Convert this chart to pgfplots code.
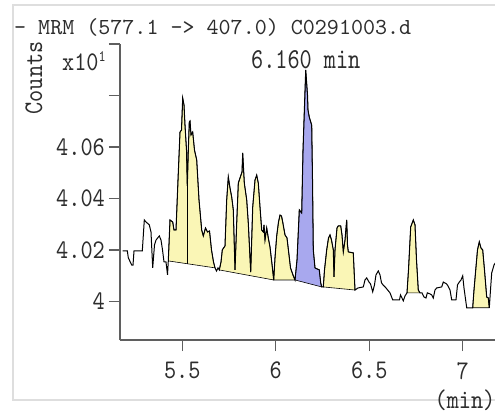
\documentclass[border=0pt]{standalone}
\usepackage{fontspec}
\usepackage{pgfplots}
\pgfplotsset{compat=1.18}
\usepackage{pgfplotstable}

\newfontfamily\titlemono{lmmono10-regular.otf}
\newfontfamily\tallmono{lmmono10-regular.otf}[FakeStretch=0.86]
\newfontfamily\peakmono{lmmono10-regular.otf}[FakeStretch=0.80]

\definecolor{peakyellow}{RGB}{250,246,182}
\definecolor{peakblue}{RGB}{168,168,238}
\definecolor{axisgray}{RGB}{95,95,95}
\definecolor{labelgray}{RGB}{45,45,45}
\definecolor{framegray}{RGB}{222,222,222}

% MRM trace: retention time (min) vs counts (x10^1)
\pgfplotstableread{
t c
5.1813 4.0197
5.2059 4.0197
5.2112 4.0170
5.2294 4.0142
5.2364 4.0142
5.2417 4.0197
5.2861 4.0197
5.2968 4.0317
5.3059 4.0309
5.3235 4.0298
5.3326 4.0270
5.3417 4.0131
5.3513 4.0220
5.3594 4.0239
5.3770 4.0255
5.3861 4.0239
5.3941 4.0201
5.4021 4.0154
5.4128 4.0154
5.4209 4.0104
5.4251 4.0158
5.4342 4.0317
5.4487 4.0309
5.4556 4.0278
5.4663 4.0278
5.4770 4.0472
5.4877 4.0658
5.4957 4.0666
5.5021 4.0790
5.5091 4.0763
5.5144 4.0685
5.5225 4.0588
5.5267 4.0449
5.5321 4.0588
5.5374 4.0697
5.5412 4.0701
5.5465 4.0647
5.5556 4.0658
5.5652 4.0588
5.5770 4.0550
5.5893 4.0395
5.6037 4.0278
5.6123 4.0255
5.6241 4.0286
5.6348 4.0270
5.6455 4.0274
5.6561 4.0201
5.6668 4.0154
5.6749 4.0131
5.6829 4.0119
5.6909 4.0131
5.6979 4.0123
5.7070 4.0154
5.7139 4.0201
5.7283 4.0216
5.7374 4.0395
5.7460 4.0484
5.7551 4.0441
5.7642 4.0406
5.7727 4.0356
5.7818 4.0123
5.7909 4.0305
5.7995 4.0460
5.8086 4.0480
5.8193 4.0503
5.8230 4.0577
5.8316 4.0460
5.8444 4.0395
5.8529 4.0305
5.8658 4.0115
5.8765 4.0367
5.8888 4.0472
5.8979 4.0491
5.9064 4.0460
5.9155 4.0367
5.9246 4.0278
5.9332 4.0270
5.9369 4.0298
5.9422 4.0239
5.9513 4.0286
5.9599 4.0247
5.9690 4.0212
5.9813 4.0135
5.9888 4.0084
5.9957 4.0170
6.0048 4.0255
6.0144 4.0309
6.0225 4.0336
6.0305 4.0332
6.0369 4.0309
6.0492 4.0259
6.0599 4.0247
6.0706 4.0181
6.0786 4.0131
6.0936 4.0100
6.1027 4.0084
6.1134 4.0162
6.1257 4.0356
6.1385 4.0344
6.1455 4.0588
6.1600 4.0899
6.1695 4.0802
6.1722 4.0744
6.1791 4.0716
6.1920 4.0685
6.1963 4.0472
6.2005 4.0201
6.2096 4.0131
6.2326 4.0123
6.2401 4.0073
6.2455 4.0057
6.2540 4.0057
6.2604 4.0123
6.2722 4.0201
6.2818 4.0247
6.2898 4.0259
6.2979 4.0239
6.3075 4.0201
6.3112 4.0096
6.3166 4.0201
6.3273 4.0286
6.3342 4.0294
6.3471 4.0294
6.3540 4.0259
6.3610 4.0193
6.3701 4.0239
6.3791 4.0317
6.3834 4.0220
6.3877 4.0193
6.4144 4.0189
6.4235 4.0045
6.4396 4.0053
6.4679 4.0057
6.4770 4.0084
6.4861 4.0092
6.4984 4.0076
6.5064 4.0069
6.5182 4.0038
6.5278 4.0065
6.5358 4.0104
6.5481 4.0119
6.5572 4.0104
6.5652 4.0073
6.5733 4.0065
6.5893 4.0053
6.6107 4.0034
6.6251 4.0007
6.6428 4.0007
6.6615 4.0007
6.6668 4.0026
6.6818 4.0003
6.6909 4.0022
6.7016 4.0034
6.7096 4.0123
6.7214 4.0290
6.7353 4.0317
6.7444 4.0298
6.7524 4.0162
6.7620 4.0045
6.7711 4.0034
6.7818 4.0034
6.7925 4.0018
6.8032 4.0014
6.8102 4.0034
6.8246 4.0030
6.8337 4.0026
6.8422 4.0014
6.8513 4.0045
6.8604 4.0053
6.8872 4.0057
6.8957 4.0076
6.9128 4.0069
6.9209 4.0061
6.9316 4.0045
6.9406 4.0007
6.9636 4.0007
6.9717 4.0065
6.9813 4.0076
6.9904 4.0084
6.9995 4.0100
7.0064 4.0053
7.0209 3.9976
7.0529 3.9976
7.0599 4.0045
7.0706 4.0135
7.0786 4.0201
7.0882 4.0232
7.0973 4.0208
7.1064 4.0201
7.1160 4.0123
7.1278 4.0018
7.1364 4.0014
7.1417 3.9976
7.1481 4.0045
7.1545 4.0111
7.1668 4.0142
7.1775 4.0154
}\trace

\begin{document}
\begin{tikzpicture}
\useasboundingbox (-120bp,-74bp) rectangle (375bp,340bp);
\clip (-120bp,-74bp) rectangle (375bp,340bp);
% light panel frame
\draw[framegray, line width=1.5bp] (390bp,335bp) -- (-107bp,335bp) -- (-107bp,-60bp) -- (390bp,-60bp);

\begin{axis}[
  at={(0bp,0bp)}, anchor=south west,
  scale only axis, width=375bp, height=296bp,
  xmin=5.1668, xmax=7.1722, ymin=3.9851, ymax=4.10,
  axis lines=left,
  axis line style={-, draw=axisgray, line width=1.2bp},
  tick align=outside, major tick length=11bp,
  tick style={draw=axisgray, line width=1.2bp},
  xtick={5.5,6,6.5,7}, xticklabels={5.5,6,6.5,7},
  ytick={4,4.02,4.04,4.06,4.08,4.10}, yticklabels={4,4.02,4.04,4.06,{},{}},
  ticklabel style={font=\tallmono\fontsize{27}{30}\selectfont, text=labelgray},
  yticklabel style={anchor=east, inner sep=0bp, xshift=-4bp},
  xticklabel style={anchor=north, inner sep=0bp, yshift=-11bp},
  clip=true,
]
% integrated peak areas, each closed along its baseline
\addplot[fill=peakyellow, draw=black, line width=0.6bp, restrict x to domain=5.425:5.675] table[x=t,y=c]{\trace} -- cycle;
\addplot[fill=peakyellow, draw=black, line width=0.6bp, restrict x to domain=5.697:5.989] table[x=t,y=c]{\trace} -- cycle;
\addplot[fill=peakyellow, draw=black, line width=0.6bp, restrict x to domain=5.988:6.103] table[x=t,y=c]{\trace} -- cycle;
\addplot[fill=peakblue,   draw=black, line width=0.6bp, restrict x to domain=6.102:6.246] table[x=t,y=c]{\trace} -- cycle;
\addplot[fill=peakyellow, draw=black, line width=0.6bp, restrict x to domain=6.253:6.424] table[x=t,y=c]{\trace} -- cycle;
\addplot[fill=peakyellow, draw=black, line width=0.6bp, restrict x to domain=6.701:6.772] table[x=t,y=c]{\trace} -- cycle;
\addplot[fill=peakyellow, draw=black, line width=0.6bp, restrict x to domain=7.052:7.142] table[x=t,y=c]{\trace} -- cycle;
% drop line between the first two peaks
\addplot[black, line width=0.8bp] coordinates {(5.5267,4.0449) (5.5267,4.0147)};
% full trace
\addplot[black, line width=1bp] table[x=t,y=c]{\trace};
\node[anchor=south, inner sep=1bp, font=\peakmono\fontsize{29}{30}\selectfont, text=labelgray] at (axis cs:6.160,4.0899) {6.160 min};
\end{axis}

\node[anchor=base west, inner sep=0, font=\titlemono\fontsize{23}{26}\selectfont, text=labelgray] at (-106bp,305bp) {- MRM (577.1 -> 407.0) C0291003.d};
\node[rotate=90, anchor=center, inner sep=0, font=\tallmono\fontsize{27}{30}\selectfont, text=labelgray] at (-86bp,262bp) {Counts};
\node[anchor=base west, inner sep=0, font=\tallmono\fontsize{27}{30}\selectfont, text=labelgray] at (-58bp,269bp) {x10\raisebox{9bp}{\fontsize{16}{16}\selectfont 1}};
\node[anchor=center, inner sep=0, font=\tallmono\fontsize{27}{30}\selectfont, text=labelgray] at (345bp,-60bp) {(min)};
\end{tikzpicture}
\end{document}
